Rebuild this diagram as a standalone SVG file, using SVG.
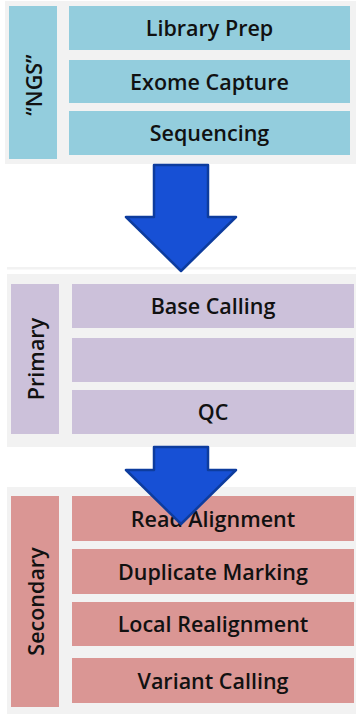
<svg xmlns="http://www.w3.org/2000/svg" width="356" height="714" viewBox="0 0 356 714">
<defs>
<style>
.panel{fill:#F2F2F2}
.ngs{fill:#93CDDD}
.pri{fill:#CCC1DA}
.sec{fill:#DA9694}
.t{font-family:"Open Sans","DejaVu Sans",sans-serif;font-size:21.5px;font-weight:600;fill:#111;text-anchor:middle;dominant-baseline:central}
.arrow{fill:#1750D5;stroke:#0D3C9E;stroke-width:2.5;stroke-linejoin:round}
</style>
</defs>
<rect width="356" height="714" fill="#FFFFFF"/>
<g id="panel-ngs">
<rect class="panel" x="5" y="1" width="351" height="163"/>
<g id="ngs-label"><rect class="ngs" x="9" y="6" width="48" height="153"/><text class="t" transform="translate(33,85) rotate(-90)">“NGS”</text></g>
<g id="library-prep"><rect class="ngs" x="69" y="6" width="281" height="44"/><text class="t" x="209.5" y="27.5">Library Prep</text></g>
<g id="exome-capture"><rect class="ngs" x="69" y="60" width="281" height="43"/><text class="t" x="209.5" y="81">Exome Capture</text></g>
<g id="sequencing"><rect class="ngs" x="69" y="111" width="281" height="44"/><text class="t" x="209.5" y="132.5">Sequencing</text></g>
</g>
<g id="panel-primary">
<rect class="panel" x="7" y="267" width="349" height="2.5"/>
<rect class="panel" x="7" y="274" width="349" height="173"/>
<g id="primary-label"><rect class="pri" x="11" y="284" width="48" height="150"/><text class="t" transform="translate(35,359) rotate(-90)">Primary</text></g>
<g id="base-calling"><rect class="pri" x="72" y="284" width="282" height="44"/><text class="t" x="213" y="305.5">Base Calling</text></g>
<g id="empty-step"><rect class="pri" x="72" y="338" width="282" height="44"/></g>
<g id="qc"><rect class="pri" x="72" y="390" width="282" height="44"/><text class="t" x="213" y="411.5">QC</text></g>
</g>
<g id="panel-secondary">
<rect class="panel" x="7" y="487" width="349" height="227"/>
<g id="secondary-label"><rect class="sec" x="11" y="496" width="48" height="211"/><text class="t" transform="translate(35,601.5) rotate(-90)">Secondary</text></g>
<g id="read-alignment"><rect class="sec" x="72" y="496" width="282" height="45"/><text class="t" x="213" y="518">Read Alignment</text></g>
<g id="duplicate-marking"><rect class="sec" x="72" y="549" width="282" height="45"/><text class="t" x="213" y="571">Duplicate Marking</text></g>
<g id="local-realignment"><rect class="sec" x="72" y="602" width="282" height="44"/><text class="t" x="213" y="623.5">Local Realignment</text></g>
<g id="variant-calling"><rect class="sec" x="72" y="658" width="282" height="45"/><text class="t" x="213" y="680">Variant Calling</text></g>
</g>
<g id="connectors">
<polygon class="arrow" points="154,165 208,165 208,217 236,217 181,271 126,217 154,217"/>
<polygon class="arrow" points="154,447 208,447 208,470 236,470 181,524 126,470 154,470"/>
</g>
</svg>
